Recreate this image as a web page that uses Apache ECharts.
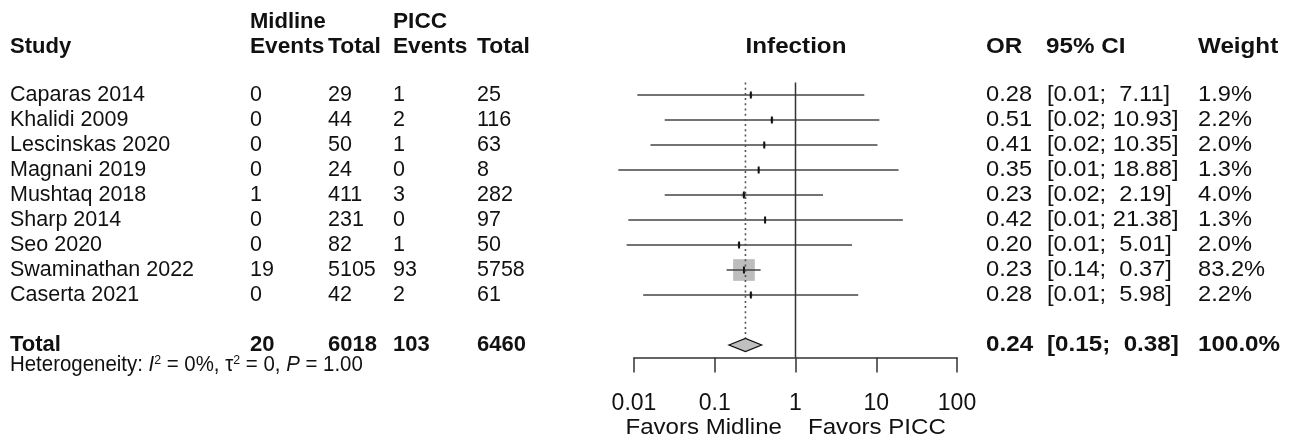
<!DOCTYPE html>
<html><head><meta charset="utf-8">
<script src="https://cdn.jsdelivr.net/npm/echarts@6/dist/echarts.min.js"></script>
<style>html,body{margin:0;padding:0;background:#fff}#c{width:1294px;height:442px}</style>
</head><body><div id="c"></div>
<script>
// ---- data ----
const studies = ['Caparas 2014','Khalidi 2009','Lescinskas 2020','Magnani 2019','Mushtaq 2018','Sharp 2014','Seo 2020','Swaminathan 2022','Caserta 2021'];
const midlineEvents = [0,0,0,0,1,0,0,19,0];
const midlineTotal = [29,44,50,24,411,231,82,5105,42];
const piccEvents = [1,2,1,0,3,0,1,93,2];
const piccTotal = [25,116,63,8,282,97,50,5758,61];
const oddsRatio = [0.28,0.51,0.41,0.35,0.23,0.42,0.20,0.23,0.28];
const ciLower = [0.011,0.024,0.016,0.0064,0.024,0.0085,0.0081,0.14,0.013];
const ciUpper = [7.11,10.93,10.35,18.88,2.19,21.38,5.01,0.37,5.98];
const orText = ['0.28','0.51','0.41','0.35','0.23','0.42','0.20','0.23','0.28'];
const ciText = ['[0.01;  7.11]','[0.02; 10.93]','[0.02; 10.35]','[0.01; 18.88]','[0.02;  2.19]','[0.01; 21.38]','[0.01;  5.01]','[0.14;  0.37]','[0.01;  5.98]'];
const weights = [1.9,2.2,2.0,1.3,4.0,1.3,2.0,83.2,2.2];
const weightText = ['1.9%','2.2%','2.0%','1.3%','4.0%','1.3%','2.0%','83.2%','2.2%'];
const pooledOR = 0.24, pooledLower = 0.15, pooledUpper = 0.38;
const totalRow = ['Total','20','6018','103','6460','0.24','[0.15;  0.38]','100.0%'];
const tickLabels = ['0.01','0.1','1','10','100'];
const totalRowIndex = 10;

// ---- style ----
const FAM = '"Liberation Sans", Arial, Helvetica, sans-serif';
const FS = 21.5;
const TXT = '#111';
const colX = [10, 250, 328, 393, 477, 986, 1047, 1198];
const RIGHT_SX = 1.1;

const chart = echarts.init(document.getElementById('c'), null, {renderer:'canvas'});

function txt(x, y, s, bold, align, sx, fs) {
  return {type:'text', x:x, y:y, scaleX:sx||1, scaleY:1, silent:true,
    style:{text:s, fill:TXT, font:(bold?'bold ':'') + (fs||FS) + 'px ' + FAM, align:align||'left', verticalAlign:'middle'}};
}

const tableRows = studies.map((s,i)=>[i]).concat([[totalRowIndex]]);

chart.setOption({
  animation:false,
  grid:{left:634, top:82.5, width:323, height:275},
  xAxis:{type:'log', logBase:10, min:0.01, max:100, position:'bottom',
    axisLine:{show:true, onZero:false, lineStyle:{color:'#333', width:1.5}},
    axisTick:{show:true, length:15, lineStyle:{color:'#333', width:1.5}},
    minorTick:{show:false}, splitLine:{show:false},
    axisLabel:{margin:46, verticalAlign:'middle', color:TXT, fontSize:23, fontFamily:FAM,
      formatter:function(v){ return tickLabels[Math.round(Math.log10(v))+2]; }}},
  yAxis:{type:'value', min:-0.5, max:10.5, inverse:true, show:false},
  series:[
    {type:'line', data:[[1,-0.5],[1,10.5]], symbol:'none', silent:true,
      lineStyle:{color:'#333', width:1.5}},
    {type:'line', data:[[pooledOR,-0.5],[pooledOR,totalRowIndex-0.27]], symbol:'none', silent:true,
      lineStyle:{color:'#555', width:1.6, type:[2,3.2]}},
    {type:'custom', silent:true, encode:{x:[1,2,3], y:0},
      data: studies.map((s,i)=>[i, ciLower[i], ciUpper[i], oddsRatio[i], weights[i]]),
      renderItem:function(params, api){
        const row = api.value(0);
        const y = api.coord([1,row])[1];
        const x1 = api.coord([api.value(1),row])[0];
        const x2 = api.coord([api.value(2),row])[0];
        const xm = api.coord([api.value(3),row])[0];
        const sz = 21.7*Math.sqrt(api.value(4)/83.2);
        return {type:'group', children:[
          {type:'rect', shape:{x:xm-sz/2, y:y-sz/2, width:sz, height:sz}, style:{fill:'#bdbdbd'}},
          {type:'line', shape:{x1:x1, y1:y, x2:x2, y2:y}, style:{stroke:'#444', lineWidth:1.6}},
          {type:'rect', shape:{x:xm-1, y:y-3.5, width:2, height:7}, style:{fill:'#111'}}
        ]};
      }},
    {type:'custom', silent:true, encode:{x:[1,2,3], y:0},
      data:[[totalRowIndex, pooledLower, pooledUpper, pooledOR]],
      renderItem:function(params, api){
        const row = api.value(0);
        const y = api.coord([1,row])[1];
        const x1 = api.coord([api.value(1),row])[0];
        const x2 = api.coord([api.value(2),row])[0];
        const xm = api.coord([api.value(3),row])[0];
        const h = 6.5;
        return {type:'polygon', shape:{points:[[x1,y],[xm,y-h],[x2,y],[xm,y+h]]},
          style:{fill:'#c0c0c0', stroke:'#111', lineWidth:1.3}};
      }},
    {type:'custom', silent:true, encode:{y:0},
      data: tableRows,
      renderItem:function(params, api){
        const row = api.value(0);
        const y = api.coord([1,row])[1];
        let cells, bold = false;
        if (row === totalRowIndex) { cells = totalRow; bold = true; }
        else {
          const i = row;
          cells = [studies[i], String(midlineEvents[i]), String(midlineTotal[i]), String(piccEvents[i]), String(piccTotal[i]), orText[i], ciText[i], weightText[i]];
        }
        return {type:'group', children: cells.map((c,k)=>txt(colX[k], y, c, bold, 'left', k>=5?RIGHT_SX:1, bold?22:FS))};
      }}
  ],
  graphic:[
    txt(10, 47, 'Study', true, 'left', 1, 22),
    txt(250, 22, 'Midline', true, 'left', 1, 22), txt(250, 47, 'Events', true, 'left', 1.03, 22), txt(328, 47, 'Total', true, 'left', 1.04, 22),
    txt(393, 22, 'PICC', true, 'left', 1.03, 22), txt(393, 47, 'Events', true, 'left', 1.03, 22), txt(477, 47, 'Total', true, 'left', 1.04, 22),
    txt(796, 47, 'Infection', true, 'center', RIGHT_SX, 22),
    txt(986, 47, 'OR', true, 'left', RIGHT_SX, 22), txt(1046, 47, '95% CI', true, 'left', RIGHT_SX, 22), txt(1198, 47, 'Weight', true, 'left', RIGHT_SX, 22),
    txt(782, 428, 'Favors Midline', false, 'right', 1.12, 21.5),
    txt(808, 428, 'Favors PICC', false, 'left', 1.12, 21.5),
    {type:'text', x:10, y:365, scaleX:0.95, scaleY:1, silent:true, style:{
      text:'{n|Heterogeneity: }{i|I}{s|2}{n| = 0%, τ}{s|2}{n| = 0, }{i|P}{n| = 1.00}',
      verticalAlign:'middle', align:'left',
      rich:{
        n:{fontSize:21.5, fontFamily:FAM, fill:TXT, color:TXT},
        i:{fontSize:21.5, fontFamily:FAM, fontStyle:'italic', fill:TXT, color:TXT},
        s:{fontSize:13, fontFamily:FAM, fill:TXT, color:TXT, verticalAlign:'top', lineHeight:13}
      }}}
  ]
});
</script></body></html>
